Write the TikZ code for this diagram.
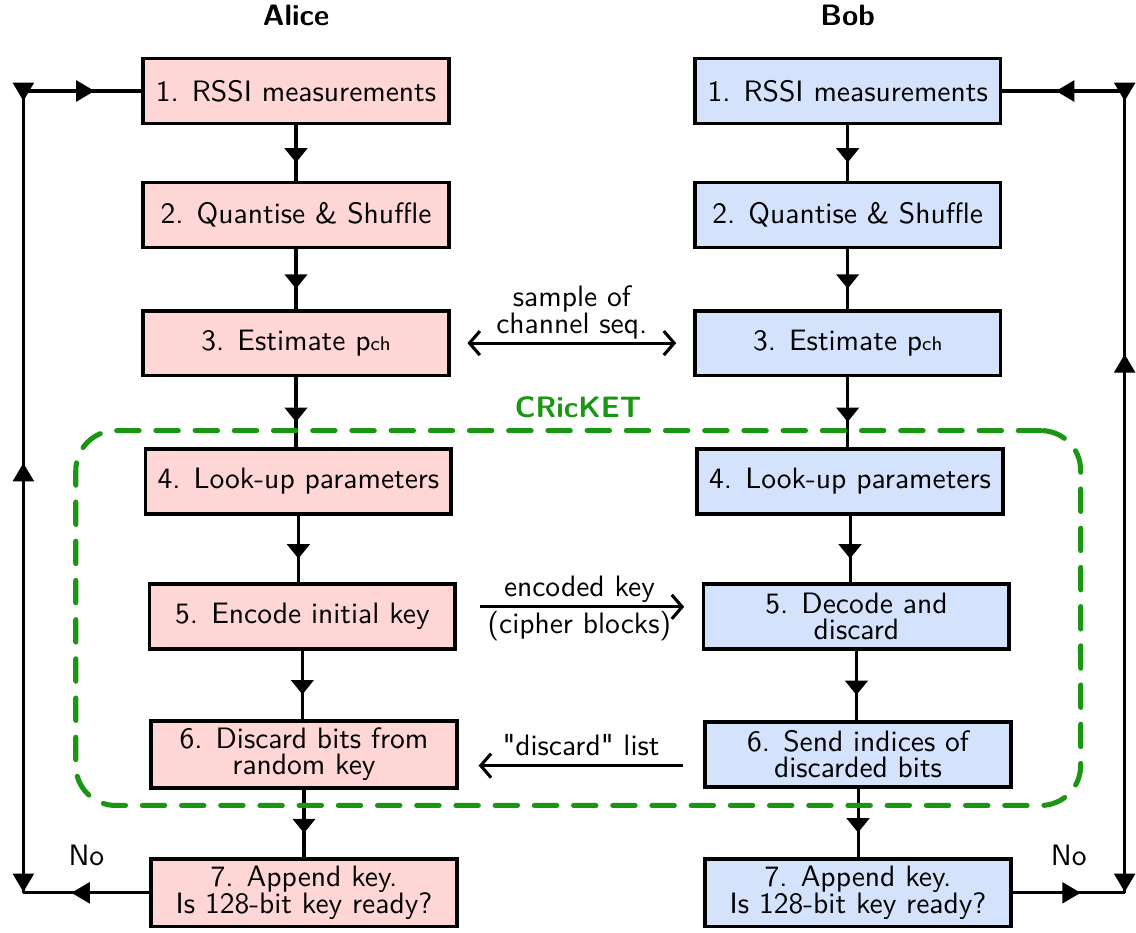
\documentclass[tikz,border=0pt]{standalone}
\usepackage{fontspec}
\usetikzlibrary{positioning,fit,arrows.meta,calc,decorations.markings}

% sans face without the TeX quote mapping, for straight quotes
\newfontfamily\rawsans{lmsans10-regular.otf}

\definecolor{alicefill}{RGB}{255,214,214}
\definecolor{bobfill}{RGB}{212,226,252}
\definecolor{cricketgreen}{RGB}{26,150,18}

\tikzset{looptip/.tip={Triangle[length=2.3mm,width=2.6mm]}}

\begin{document}
\begin{tikzpicture}[
  font={\sffamily\fontsize{10.5}{9.3}\selectfont\lineskiplimit=-\maxdimen},
  >={Straight Barb[length=1.3mm,width=3mm]},
  box/.style={draw=black, line width=1.3pt, align=center,
              minimum width=38.2mm, minimum height=8.1mm, inner ysep=2.5pt},
  alicebox/.style={box, fill=alicefill},
  bobbox/.style={box, fill=bobfill},
  title/.style={font=\sffamily\bfseries\fontsize{10.5}{12}\selectfont},
  flow/.style={line width=1.1pt, postaction={decorate},
               decoration={markings, mark=at position 0.5 with
                 {\arrow[xshift=1.2mm]{Triangle[length=1.8mm,width=2.8mm]}}}},
  msg/.style={line width=1.1pt},
  msglabel/.style={align=center, inner sep=1pt},
  loopline/.style={line width=1.1pt},
  fwd/.style={postaction={decorate, decoration={markings,
                mark=at position #1 with {\arrow{looptip}}}}},
  bwd/.style={postaction={decorate, decoration={markings,
                mark=at position #1 with {\arrowreversed{looptip}}}}},
  cricketbox/.style={draw=cricketgreen, line width=1.8pt, line cap=round,
                     dash pattern=on 2.8mm off 2.1mm, rounded corners=5mm},
  cricketlabel/.style={font=\sffamily\bfseries\fontsize{10.5}{12}\selectfont,
                       text=cricketgreen, label distance=0mm},
]
\useasboundingbox (0,0) rectangle (142mm,-116.5mm);

%% ---------- Alice (left column) ----------
\node[alicebox] (a1) at (37mm,-11.375mm) {1. RSSI measurements};
\node[alicebox, below=6.95mm of a1] (a2) {2. Quantise \& Shuffle};
\node[alicebox, below=7.45mm of a2] (a3) {3. Estimate p{\scriptsize ch}};
\node[alicebox, below=8.75mm of a3, xshift=0.3mm] (a4) {4. Look-up parameters};
\node[alicebox, below=8.3mm of a4, xshift=0.5mm] (a5) {5. Encode initial key};
\node[alicebox, below=8.55mm of a5, xshift=0.2mm] (a6) {6. Discard bits from\\ random key};
\node[alicebox, below=8.45mm of a6, minimum height=8.4mm] (a7) {7. Append key.\\ Is 128-bit key ready?};

%% ---------- Bob (right column) ----------
\node[bobbox, right=30.3mm of a1] (b1) {1. RSSI measurements};
\node[bobbox, right=30.3mm of a2] (b2) {2. Quantise \& Shuffle};
\node[bobbox, right=30.3mm of a3] (b3) {3. Estimate p{\scriptsize ch}};
\node[bobbox, right=30.3mm of a4] (b4) {4. Look-up parameters};
\node[bobbox, right=30.6mm of a5] (b5) {5. Decode and\\ discard};
\node[bobbox, right=30.6mm of a6] (b6) {6. Send indices of\\ discarded bits};
\node[bobbox, right=30.6mm of a7, minimum height=8.4mm] (b7) {7. Append key.\\ Is 128-bit key ready?};

\node[title, above=2.6mm of a1] (alice) {Alice};
\node[title, above=2.6mm of b1] (bob) {Bob};

%% steps inside each column (kept vertical)
\foreach \u/\l in {a1/a2,a2/a3,a3/a4,a4/a5,a5/a6,a6/a7,
                   b1/b2,b2/b3,b3/b4,b4/b5,b5/b6,b6/b7}
  \draw[flow] (\u.south) -- (\u.south |- \l.north);

%% messages between Alice and Bob
\draw[msg, <->, shorten <=2.1mm, shorten >=2.1mm] (a3) -- (b3)
  node[msglabel, midway, above]{sample of\\ channel seq.};
\draw[msg, ->, shorten <=2.9mm, shorten >=2.2mm]
  ([yshift=1.2mm]a5.east) -- ([yshift=1.2mm]b5.west)
  node[msglabel, midway, above]{encoded key}
  node[msglabel, midway, below]{(cipher blocks)};
\draw[msg, ->, shorten <=2.5mm, shorten >=2.5mm]
  ([yshift=-1.4mm]b6.west) -- ([yshift=-1.4mm]a6.east)
  node[msglabel, midway, above, inner sep=3pt]{\rawsans "discard" list};

%% CRicKET block
\node[cricketbox, fit=(a4)(b6), inner xsep=8.5mm, inner ysep=2.1mm,
      label={[cricketlabel]above:CRicKET}] (cricket) {};

%% "No" loops back to the measurements
\coordinate (lt) at ($(a1.west)+(-14.75mm,0)$);
\coordinate (lb) at (lt |- a7.west);
\coordinate (rt) at ($(b1.east)+(15.3mm,0)$);
\coordinate (rb) at (rt |- b7.east);

\draw[loopline, fwd=9.75mm] (a7.west) -- (lb) node[midway, above=2mm]{No};
\draw[loopline, fwd=1.25mm, fwd=0.999, bwd=46.5mm] (lt) -- (lb);
\draw[loopline, fwd=8.9mm] (lt) -- (a1.west);

\draw[loopline, fwd=8.5mm] (b7.east) -- (rb) node[midway, above=2mm]{No};
\draw[loopline, fwd=1.25mm, fwd=0.999, bwd=32.9mm] (rt) -- (rb);
\draw[loopline, fwd=8.6mm] (rt) -- (b1.east);

\end{tikzpicture}
\end{document}
